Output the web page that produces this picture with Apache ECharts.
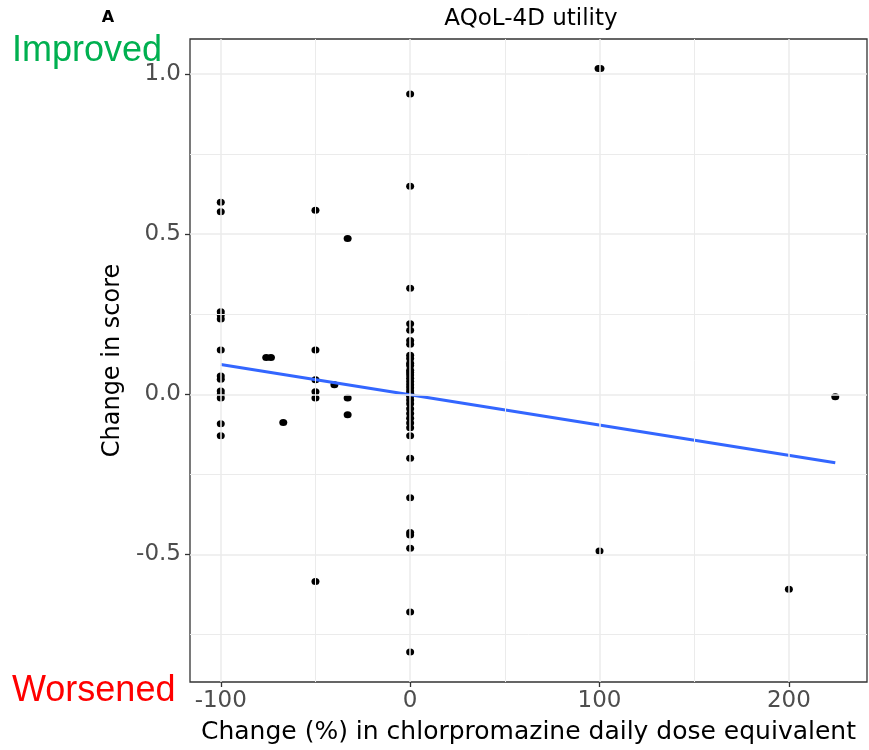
<!DOCTYPE html>
<html><head><meta charset="utf-8">
<script src="https://cdn.jsdelivr.net/npm/echarts@6/dist/echarts.min.js"></script>
<style>html,body{margin:0;padding:0;background:#fff}#c{width:869px;height:750px}</style>
</head><body><div id="c"></div>
<script>
// Data
const doseChange = [
  -100,-100,-100,-100,-100,-100,-100,-100,-100,-100,-100,-100,-100,
  -76,-73.5,-67,
  -50,-50,-50,-50,-50,-50,
  -40,
  -33,-33,-33,
  0,0,0,0,0,0,0,0,0,0,0,0,0,0,0,0,0,0,0,0,0,0,0,0,0,0,0,0,0,0,0,0,0,0,0,0,
  99.5,100.5,100,
  200,
  224.5
];
const scoreChange = [
  0.600,0.570,0.258,0.248,0.235,0.138,0.057,0.047,0.010,0.000,-0.012,-0.092,-0.130,
  0.115,0.115,-0.088,
  0.575,0.138,0.045,0.008,-0.012,-0.585,
  0.030,
  0.487,-0.012,-0.064,
  0.938,0.650,0.331,0.220,0.200,0.168,0.156,0.122,0.112,0.097,0.090,0.075,0.068,0.060,0.050,0.040,0.030,0.020,0.010,0.003,-0.006,-0.018,-0.030,-0.045,-0.060,-0.075,-0.090,-0.105,-0.130,-0.200,-0.323,-0.432,-0.440,-0.481,-0.680,-0.805,
  1.018,1.018,-0.490,
  -0.609,
  -0.008
];
const fitX = [-100, 224.5];
const fitY = [0.093, -0.214];
const xTicks = [-100, 0, 100, 200];
const xMinor = [-50, 50, 150];
const yTicks = [-0.5, 0.0, 0.5, 1.0];
const yMinor = [-0.75, -0.25, 0.25, 0.75];
const titleText = 'AQoL-4D utility';
const xTitle = 'Change (%) in chlorpromazine daily dose equivalent';
const yTitle = 'Change in score';

const points = doseChange.map((x, i) => [x, scoreChange[i]]);
const fitLine = fitX.map((x, i) => [x, fitY[i]]);

const chart = echarts.init(document.getElementById('c'), null, {renderer: 'canvas'});
const gridLines = [].concat(
  xMinor.map(v => ({xAxis: v, lineStyle: {width: 1}})),
  yMinor.map(v => ({yAxis: v, lineStyle: {width: 1}})),
  xTicks.map(v => ({xAxis: v, lineStyle: {width: 1.5}})),
  yTicks.map(v => ({yAxis: v, lineStyle: {width: 1.5}}))
);
const option = {
  animation: false,
  backgroundColor: '#ffffff',
  grid: {left: 190, right: 2, top: 39, bottom: 65, show: true, borderColor: '#333333', borderWidth: 1.3, backgroundColor: 'transparent'},
  xAxis: {
    type: 'value', min: -116.25, max: 241.25,
    axisLine: {show: false, onZero: false}, splitLine: {show: false},
    axisTick: {show: true, customValues: xTicks, length: 5, lineStyle: {color: '#333333', width: 1.3}},
    axisLabel: {customValues: xTicks, color: '#4d4d4d', fontSize: 23, fontFamily: 'DejaVu Sans', margin: 8},
    name: xTitle, nameLocation: 'middle', nameGap: 38,
    nameTextStyle: {color: '#000', fontSize: 25, fontFamily: 'DejaVu Sans'}
  },
  yAxis: {
    type: 'value', min: -0.899, max: 1.110,
    axisLine: {show: false, onZero: false}, splitLine: {show: false},
    axisTick: {show: true, customValues: yTicks, length: 5, lineStyle: {color: '#333333', width: 1.3}},
    axisLabel: {customValues: yTicks, color: '#4d4d4d', fontSize: 23, fontFamily: 'DejaVu Sans', margin: 9,
      formatter: v => v.toFixed(1)},
    name: yTitle, nameLocation: 'middle', nameGap: 56, nameRotate: 90,
    nameTextStyle: {color: '#000', fontSize: 24, fontFamily: 'DejaVu Sans'}
  },
  series: [
    {type: 'scatter', data: [], z: 1, silent: true,
     markLine: {silent: true, symbol: 'none', label: {show: false}, animation: false,
       lineStyle: {color: '#ebebeb', type: 'solid'}, data: gridLines}},
    {type: 'scatter', data: points, symbol: 'circle', symbolSize: [8, 7], itemStyle: {color: '#000000', opacity: 1}, z: 3, silent: true},
    {type: 'line', data: fitLine, showSymbol: false, symbol: 'none', lineStyle: {color: '#3366FF', width: 3}, z: 4, silent: true}
  ],
  graphic: [
    {type: 'text', x: 108, y: 18, style: {text: 'A', font: 'bold 16px "DejaVu Sans"', fill: '#000', align: 'center', verticalAlign: 'middle'}},
    {type: 'text', x: 531, y: 19, style: {text: titleText, font: '23px "DejaVu Sans"', fill: '#000', align: 'center', verticalAlign: 'middle'}},
    {type: 'text', x: 12, y: 51, style: {text: 'Improved', font: '36px "Liberation Sans"', fill: '#00B050', align: 'left', verticalAlign: 'middle'}},
    {type: 'text', x: 12, y: 691, style: {text: 'Worsened', font: '36px "Liberation Sans"', fill: '#FF0000', align: 'left', verticalAlign: 'middle'}}
  ]
};
chart.setOption(option);
</script>
</body></html>
